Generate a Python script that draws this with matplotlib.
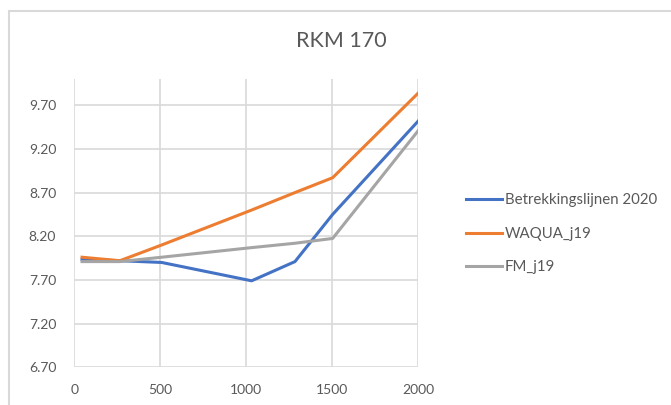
import matplotlib
matplotlib.use("Agg")
import matplotlib.pyplot as plt
from matplotlib.patches import Rectangle

# afstand (m) en waterstanden per reeks
afstand = [45, 265, 508, 1031, 1283, 1502, 2000]
betrekkingslijnen = [7.935, 7.92, 7.90, 7.69, 7.91, 8.45, 9.52]
waqua = [7.96, 7.92, 8.10, 8.50, 8.70, 8.87, 9.84]
fm = [7.91, 7.91, 7.96, 8.07, 8.12, 8.175, 9.41]

x_ticks = [0, 500, 1000, 1500, 2000]
y_ticks = [6.70, 7.20, 7.70, 8.20, 8.70, 9.20, 9.70]

tekstkleur = "#595959"
rasterkleur = "#d9d9d9"

plt.rcParams["font.family"] = ["Lato", "DejaVu Sans"]

fig = plt.figure(figsize=(6.71, 4.05), dpi=100)
ax = fig.add_axes([74.3 / 671, 1 - 367.3 / 405, 344 / 671, 288.3 / 405])

ax.plot(afstand, betrekkingslijnen, color="#4472C4", lw=2.2, label="Betrekkingslijnen 2020")
ax.plot(afstand, waqua, color="#ED7D31", lw=2.2, label="WAQUA_j19")
ax.plot(afstand, fm, color="#A5A5A5", lw=2.2, label="FM_j19")

ax.set_xlim(0, 2000)
ax.set_ylim(6.70, 10.0)
ax.set_xticks(x_ticks)
ax.set_yticks(y_ticks)
ax.set_yticklabels([f"{v:.2f}" for v in y_ticks])
ax.tick_params(length=0, labelsize=10, colors=tekstkleur)
ax.tick_params(axis="y", pad=13)
ax.tick_params(axis="x", pad=12)
ax.grid(True, color=rasterkleur, lw=1.2)
ax.set_axisbelow(True)
for s in ax.spines.values():
    s.set_visible(False)

fig.text(341 / 671, 1 - 41 / 405, "RKM 170", ha="center", va="center",
         fontsize=15.5, color=tekstkleur)

leg = fig.legend(loc="center left", bbox_to_anchor=(452 / 671, 1 - 234 / 405),
                 frameon=False, fontsize=10.8, handlelength=2.4, handletextpad=0.2,
                 labelspacing=1.3)
for t in leg.get_texts():
    t.set_color(tekstkleur)

# kader om de grafiek
fig.patches.append(Rectangle((8.5 / 671, -0.01), 1, 1.01 - 10.5 / 405, transform=fig.transFigure,
                             fill=False, edgecolor=rasterkleur, lw=1.5))

fig.savefig("out.png", dpi=100)
